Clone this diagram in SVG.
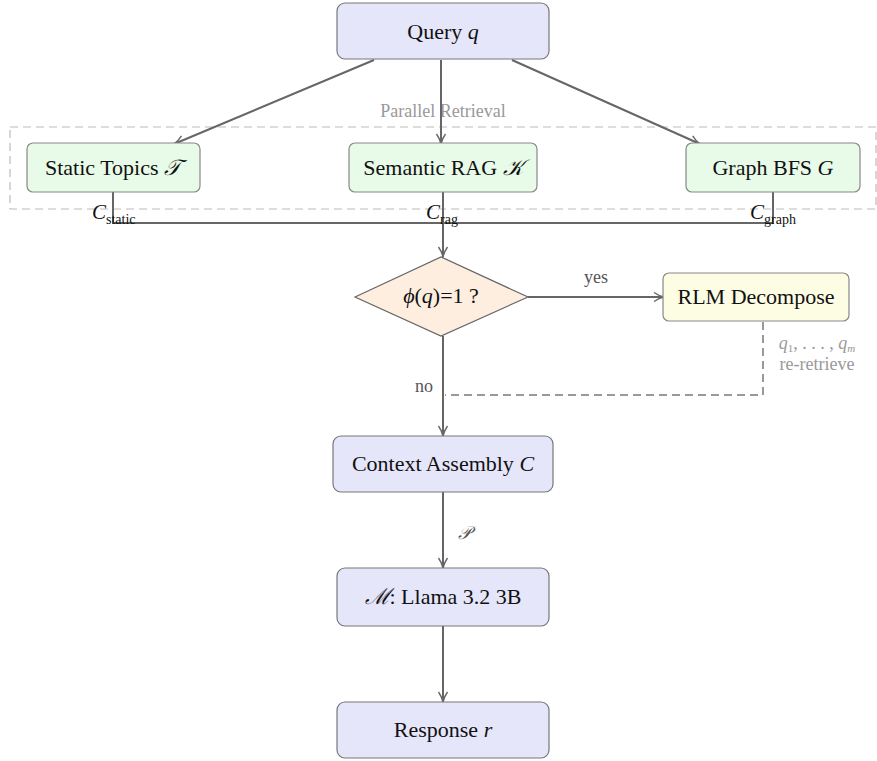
<svg xmlns="http://www.w3.org/2000/svg" width="877" height="761" viewBox="0 0 877 761" font-family="'Liberation Serif','Times New Roman','DejaVu Serif',serif">
<defs>
<marker id="arr" viewBox="0 0 12 12" refX="11" refY="6" markerWidth="12" markerHeight="12" markerUnits="userSpaceOnUse" orient="auto">
<path d="M1,1.5 Q6,5 11,6 Q6,7 1,10.5" fill="none" stroke="#666" stroke-width="1.4"/>
</marker>
</defs>
<style>
text{font-family:"Liberation Serif","Times New Roman","DejaVu Serif",serif}
.t{font-size:22px;fill:#111;text-anchor:middle}
.m{font-style:italic}
.blue{fill:#e6e6fa;stroke:#777;stroke-width:1.2}
.green{fill:#e8fbe8;stroke:#888;stroke-width:1.2}
.yel{fill:#fdfde4;stroke:#888;stroke-width:1.2}
.dia{fill:#fdeee0;stroke:#666;stroke-width:1.2}
.c{fill:none;stroke:#666;stroke-width:2}
.d{fill:none;stroke:#999;stroke-width:2;stroke-dasharray:8,5}
.g{font-size:18px;fill:#999;text-anchor:middle}
.l{font-size:18px;fill:#555;text-anchor:middle}
.s{font-size:21px;fill:#111}
</style>
<rect x="10" y="127" width="866" height="82" fill="none" stroke="#bbb" stroke-width="1.2" stroke-dasharray="8,5"/>
<text class="g" x="443" y="117">Parallel Retrieval</text>
<g id="connectors">
<path class="c" d="M374,60 L174,144" marker-end="url(#arr)"/>
<path class="c" d="M441,60 L441,144" marker-end="url(#arr)"/>
<path class="c" d="M512,60 L700,144" marker-end="url(#arr)"/>
<path class="c" d="M113,192 L113,223 L773,223 L773,192"/>
<path class="c" d="M443,192 L443,257" marker-end="url(#arr)"/>
<path class="c" d="M528,297 L664,297" marker-end="url(#arr)"/>
<path class="c" d="M443,336 L443,436" marker-end="url(#arr)"/>
<path class="d" d="M763,322 L763,395 L445,395"/>
<path class="c" d="M443,492 L443,568" marker-end="url(#arr)"/>
<path class="c" d="M443,626 L443,702" marker-end="url(#arr)"/>
<text class="s" x="92" y="219"><tspan class="m">C</tspan><tspan font-size="14" dy="5">static</tspan></text>
<text class="s" x="426" y="219"><tspan class="m">C</tspan><tspan font-size="14" dy="5">rag</tspan></text>
<text class="s" x="750" y="219"><tspan class="m">C</tspan><tspan font-size="14" dy="5">graph</tspan></text>
<text class="l" x="596" y="283">yes</text>
<text class="l" x="424" y="392">no</text>
<text class="g" x="817" y="349" font-size="17"><tspan class="m">q</tspan><tspan font-size="11" dy="3">1</tspan><tspan dy="-3">, . . . , </tspan><tspan class="m">q</tspan><tspan font-size="11" dy="3" class="m">m</tspan></text>
<text class="g" x="817" y="370" font-size="17">re-retrieve</text>
<text class="l m" x="464" y="539" font-size="19">𝒫</text>
</g>
<g id="query"><rect class="blue" x="337" y="3" width="212" height="56" rx="8"/><text class="t" x="443" y="39">Query <tspan class="m">q</tspan></text></g>
<g id="static"><rect class="green" x="27" y="143" width="173" height="49" rx="6"/><text class="t" x="113" y="175">Static Topics <tspan class="m">𝒯</tspan></text></g>
<g id="semantic"><rect class="green" x="349" y="143" width="188" height="49" rx="6"/><text class="t" x="443" y="175">Semantic RAG <tspan class="m">𝒦</tspan></text></g>
<g id="graph"><rect class="green" x="686" y="143" width="174" height="49" rx="6"/><text class="t" x="773" y="175">Graph BFS <tspan class="m">G</tspan></text></g>
<g id="decision"><polygon class="dia" points="355,297 441,257 528,297 441,336"/><text class="t" x="441" y="303" font-size="19"><tspan class="m">ϕ</tspan>(<tspan class="m">q</tspan>)=1 ?</text></g>
<g id="rlm"><rect class="yel" x="663" y="273" width="186" height="48" rx="6"/><text class="t" x="756" y="304">RLM Decompose</text></g>
<g id="context"><rect class="blue" x="333" y="436" width="220" height="56" rx="8"/><text class="t" x="443" y="471">Context Assembly <tspan class="m">C</tspan></text></g>
<g id="model"><rect class="blue" x="337" y="568" width="212" height="58" rx="8"/><text class="t" x="443" y="604"><tspan class="m">ℳ</tspan>: Llama 3.2 3B</text></g>
<g id="response"><rect class="blue" x="337" y="702" width="212" height="56" rx="8"/><text class="t" x="443" y="737">Response <tspan class="m">r</tspan></text></g>
</svg>
